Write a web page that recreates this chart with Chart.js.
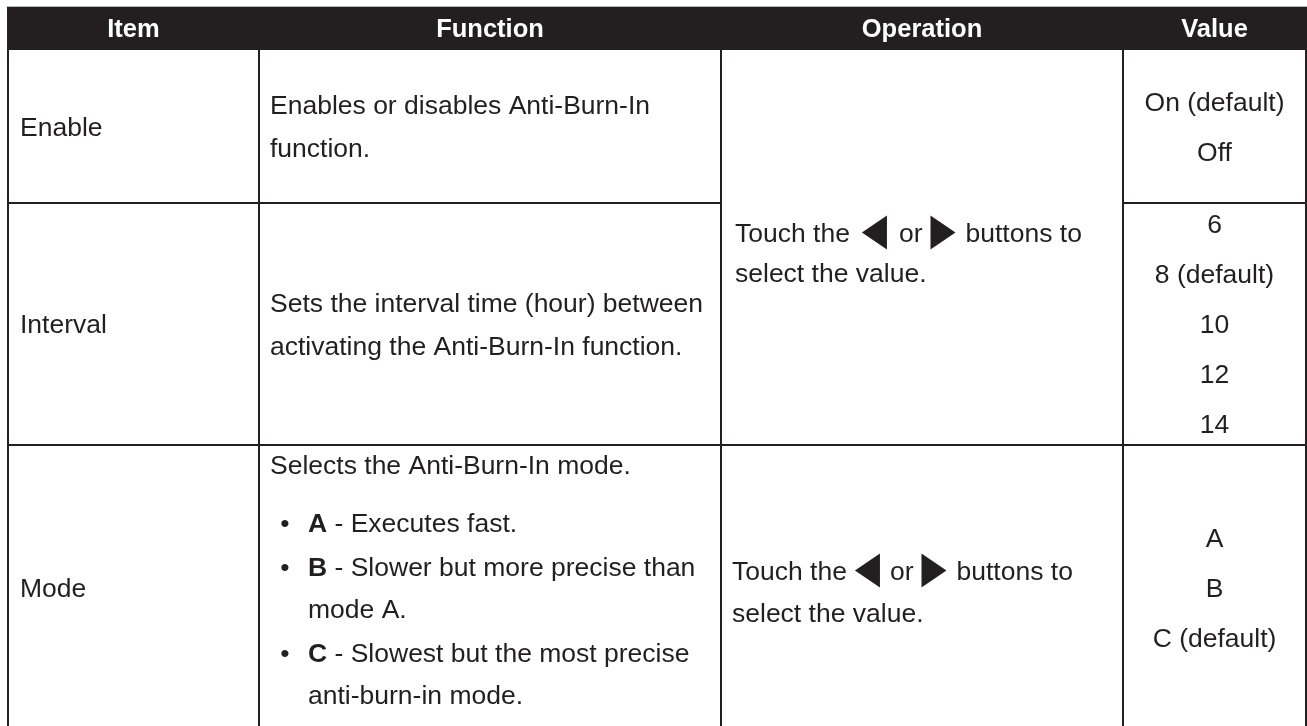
<!DOCTYPE html>
<html>
<head>
<meta charset="utf-8">
<script src="https://cdn.jsdelivr.net/npm/chart.js@4.4.1/dist/chart.umd.min.js"></script>
<style>
	html, body { margin: 0; padding: 0; background: #ffffff; }
	#wrap { width: 1307px; height: 726px; }
</style>
</head>
<body>
<div id="wrap"><canvas id="anti-burn-in" width="1307" height="726"></canvas></div>
<script>
// table content
const headers = ["Item", "Function", "Operation", "Value"];
const items = ["Enable", "Interval", "Mode"];
const enableFunction = ["Enables or disables Anti-Burn-In", "function."];
const intervalFunction = ["Sets the interval time (hour) between", "activating the Anti-Burn-In function."];
const modeIntro = "Selects the Anti-Burn-In mode.";
const modeBullets = [
	["A", "- Executes fast."],
	["B", "- Slower but more precise than", "mode A."],
	["C", "- Slowest but the most precise", "anti-burn-in mode."],
];
const operationLine1 = ["Touch the", "or", "buttons to"];
const operationLine2 = "select the value.";
const enableValues = ["On (default)", "Off"];
const intervalValues = ["6", "8 (default)", "10", "12", "14"];
const modeValues = ["A", "B", "C (default)"];

// layout in page units (the hidden linear scales map these to pixels)
const cols = [8, 259, 721, 1123, 1306];
const rows = [7, 50, 203, 445, 730];
const dark = "#231f20";
const bodyFont = "26.5px 'Liberation Sans', Arial, sans-serif";
const boldFont = "bold 26.5px 'Liberation Sans', Arial, sans-serif";
const headFont = "bold 25.5px 'Liberation Sans', Arial, sans-serif";

const tablePlugin = {
	id: "tablePlugin",
	afterDraw(chart) {
		const ctx = chart.ctx;
		const X = (v) => chart.scales.x.getPixelForValue(v);
		const Y = (v) => chart.scales.y.getPixelForValue(v);
		const mid = (i) => (rows[i] + rows[i + 1]) / 2;
		ctx.save();

		// header band, thin grey rule on top
		ctx.fillStyle = dark;
		ctx.fillRect(X(cols[0] - 1), Y(rows[0]), X(1307) - X(cols[0] - 1), Y(rows[1]) - Y(rows[0]));
		ctx.fillStyle = "#b8b8b8";
		ctx.fillRect(X(cols[0] - 1), Y(rows[0] - 1), X(1307) - X(cols[0] - 1), 1);
		ctx.fillStyle = "#ffffff";
		ctx.font = headFont;
		ctx.textAlign = "center";
		ctx.textBaseline = "middle";
		headers.forEach((h, i) => {
			ctx.fillText(h, X((cols[i] + cols[i + 1]) / 2), Y(mid(0) + 1));
		});

		// grid lines
		ctx.strokeStyle = dark;
		ctx.lineWidth = 2;
		ctx.beginPath();
		cols.forEach((c) => {
			ctx.moveTo(X(c), Y(rows[1]));
			ctx.lineTo(X(c), Y(rows[4]));
		});
		ctx.moveTo(X(cols[0]), Y(rows[2]));
		ctx.lineTo(X(cols[2]), Y(rows[2]));
		ctx.moveTo(X(cols[3]), Y(rows[2]));
		ctx.lineTo(X(cols[4]), Y(rows[2]));
		ctx.moveTo(X(cols[0]), Y(rows[3]));
		ctx.lineTo(X(cols[4]), Y(rows[3]));
		ctx.stroke();

		ctx.fillStyle = dark;
		ctx.font = bodyFont;

		// item column
		ctx.textAlign = "left";
		items.forEach((it, i) => {
			ctx.fillText(it, X(cols[0] + 12), Y(mid(i + 1) + 2));
		});

		// function column
		const fx = cols[1] + 11;
		const lh = 43;
		[enableFunction, intervalFunction].forEach((lines, i) => {
			const c = mid(i + 1) + 2;
			lines.forEach((t, j) => {
				ctx.fillText(t, X(fx), Y(c + (j - (lines.length - 1) / 2) * lh));
			});
		});
		ctx.fillText(modeIntro, X(fx), Y(467));
		let by = 525;
		modeBullets.forEach((b) => {
			ctx.font = bodyFont;
			ctx.textAlign = "center";
			ctx.fillText("\u2022", X(fx + 15), Y(by));
			ctx.textAlign = "left";
			ctx.font = boldFont;
			ctx.fillText(b[0], X(fx + 38), Y(by));
			const w = ctx.measureText(b[0] + " ").width;
			ctx.font = bodyFont;
			ctx.fillText(b[1], X(fx + 38) + w, Y(by));
			if (b[2]) {
				by += 42;
				ctx.fillText(b[2], X(fx + 38), Y(by));
			}
			by += 44;
		});

		// operation column
		function triangle(x, cy, left) {
			ctx.beginPath();
			if (left) {
				ctx.moveTo(X(x), Y(cy));
				ctx.lineTo(X(x + 25), Y(cy - 17));
				ctx.lineTo(X(x + 25), Y(cy + 17));
			} else {
				ctx.moveTo(X(x), Y(cy - 17));
				ctx.lineTo(X(x), Y(cy + 17));
				ctx.lineTo(X(x + 25), Y(cy));
			}
			ctx.closePath();
			ctx.fill();
		}
		function operation(left, cy, gaps, lineGap) {
			ctx.font = bodyFont;
			ctx.textAlign = "left";
			const y1 = cy - lineGap / 2;
			let x = left;
			ctx.fillText(operationLine1[0], X(x), Y(y1));
			x += ctx.measureText(operationLine1[0]).width + gaps[0];
			triangle(x, y1 - 2, true);
			x += 25 + gaps[1];
			ctx.fillText(operationLine1[1], X(x), Y(y1));
			x += ctx.measureText(operationLine1[1]).width + gaps[2];
			triangle(x, y1 - 2, false);
			x += 25 + gaps[3];
			ctx.fillText(operationLine1[2], X(x), Y(y1));
			ctx.fillText(operationLine2, X(left), Y(y1 + lineGap));
		}
		operation(cols[2] + 14, (rows[1] + rows[3]) / 2 + 7, [12, 12, 8, 10], 40);
		operation(cols[2] + 11, mid(3) + 6, [8, 10, 8, 10], 42);

		// value column
		ctx.textAlign = "center";
		ctx.font = bodyFont;
		const vx = X((cols[3] + cols[4]) / 2);
		[enableValues, intervalValues, modeValues].forEach((vals, i) => {
			const c = mid(i + 1) + 2;
			vals.forEach((v, j) => {
				ctx.fillText(v, vx, Y(c + (j - (vals.length - 1) / 2) * 50));
			});
		});
		ctx.restore();
	},
};

new Chart(document.getElementById("anti-burn-in"), {
	type: "scatter",
	data: { datasets: [{ data: [] }] },
	options: {
		responsive: false,
		animation: false,
		layout: { padding: 0 },
		scales: {
			x: { type: "linear", min: 0, max: 1307, display: false },
			y: { type: "linear", min: 0, max: 726, reverse: true, display: false },
		},
		plugins: { legend: { display: false }, tooltip: { enabled: false } },
	},
	plugins: [tablePlugin],
});
</script>
</body>
</html>
